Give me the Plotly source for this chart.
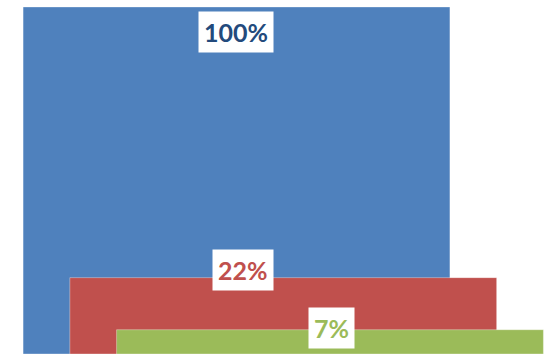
import plotly.graph_objects as go

# Share of the starting total remaining at each stage
stages = ["Stage 1", "Stage 2", "Stage 3"]
shares = [100, 22, 7]
bar_colors = ["#4F81BD", "#C0504D", "#9BBB59"]
label_colors = ["#234A7C", "#C0504D", "#9BBB59"]
label_shift_x = [-1, -40, 1]
label_shift_y = [-25, 8, 2]

fig = go.Figure()
for i, (stage, share) in enumerate(zip(stages, shares)):
    fig.add_trace(go.Bar(
        x=[i],
        y=[share],
        width=9.13,
        marker=dict(color=bar_colors[i],
                    line=dict(color="rgba(255,255,255,0.35)", width=1)),
        name=stage,
        hoverinfo="skip",
    ))
    fig.add_annotation(
        x=i, y=share,
        text=f"<b>{share}%</b>",
        showarrow=False,
        xshift=label_shift_x[i],
        yshift=label_shift_y[i],
        font=dict(family="Lato, Open Sans, sans-serif", size=25,
                  color=label_colors[i]),
        bgcolor="white",
        borderpad=5,
    )

fig.update_layout(
    width=548, height=354,
    margin=dict(l=0, r=0, t=0, b=0),
    barmode="overlay",
    showlegend=False,
    plot_bgcolor="white",
    paper_bgcolor="white",
    xaxis=dict(range=[-5.059, 6.663], visible=False, fixedrange=True),
    yaxis=dict(range=[0, 102.0], visible=False, fixedrange=True),
)

fig.write_html("out.html")
